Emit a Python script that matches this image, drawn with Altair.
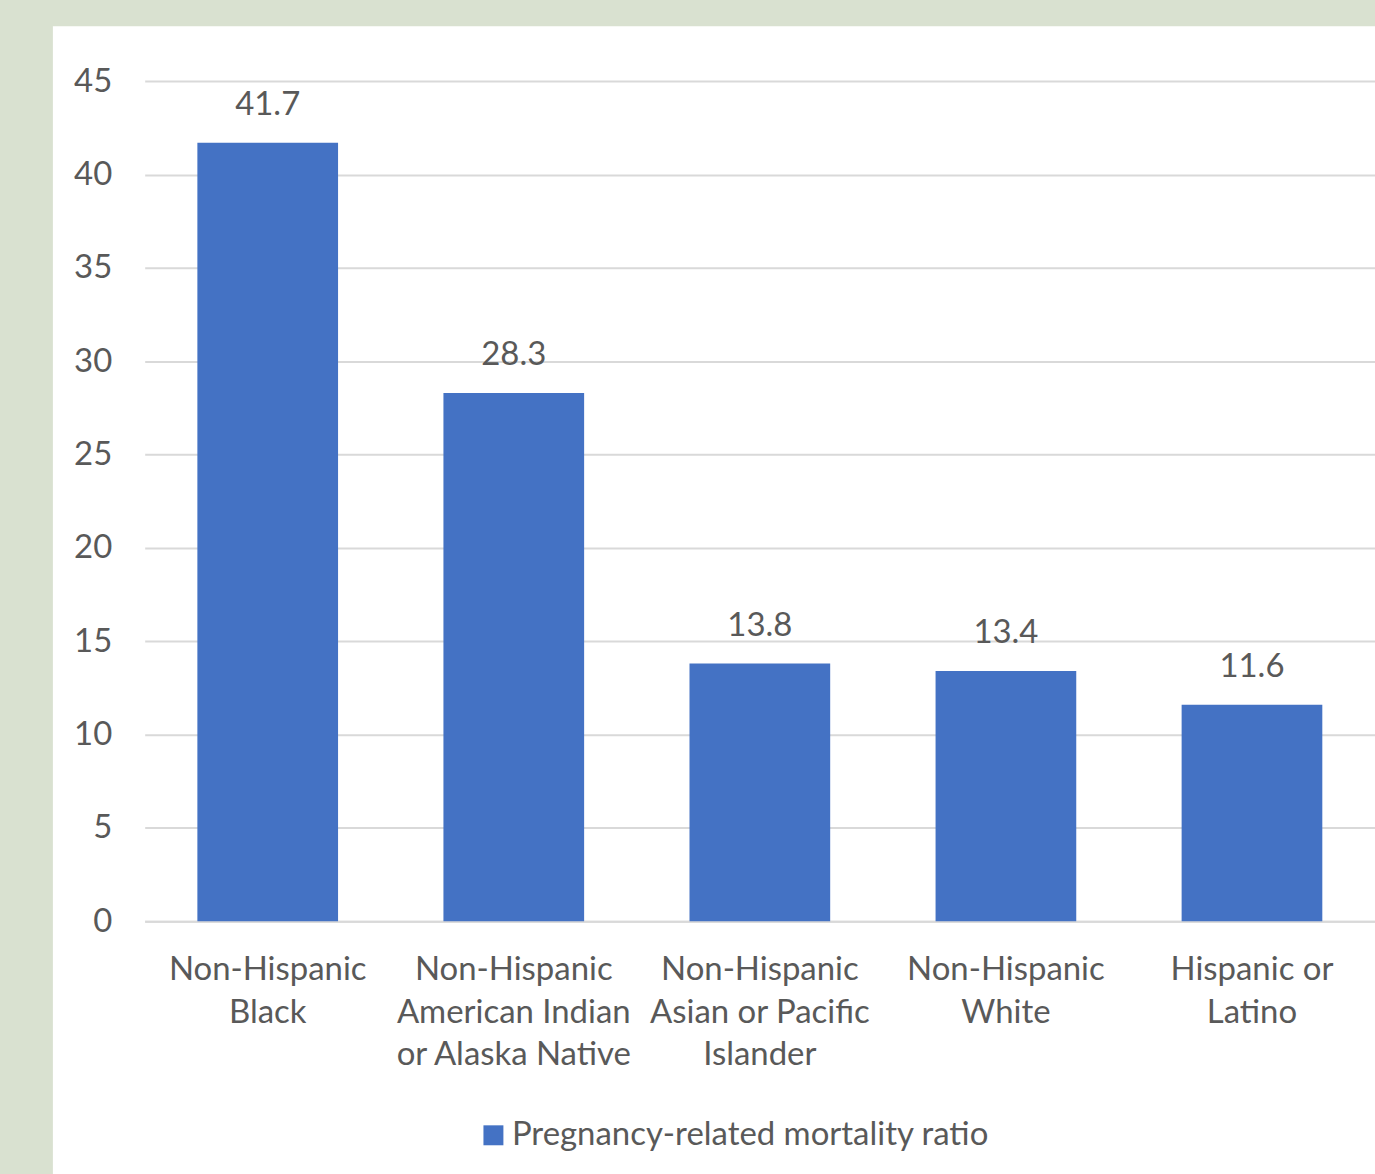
import altair as alt
import pandas as pd

# Pregnancy-related mortality ratio by race/ethnicity
categories = [
    "Non-Hispanic\nBlack",
    "Non-Hispanic\nAmerican Indian\nor Alaska Native",
    "Non-Hispanic\nAsian or Pacific\nIslander",
    "Non-Hispanic\nWhite",
    "Hispanic or\nLatino",
]
ratios = [41.7, 28.3, 13.8, 13.4, 11.6]
series_name = "Pregnancy-related mortality ratio"
y_ticks = [0, 5, 10, 15, 20, 25, 30, 35, 40, 45]

df = pd.DataFrame({"group": categories, "ratio": ratios, "series": series_name})

FONT = "Lato"
FONT_SIZE = 33
GREY_TEXT = "#595959"
BAR = "#4472c4"
FRAME = "#d9e1d0"

PLOT_W = 1233
PLOT_H = 842

# tinted frame strips along the top and left edges of the page
one = pd.DataFrame({"k": [0]})
top_strip = alt.Chart(one).mark_rect(color=FRAME).encode(
    x=alt.value(-150),
    x2=alt.value(PLOT_W + 10),
    y=alt.value(-85),
    y2=alt.value(-55),
)
left_strip = alt.Chart(one).mark_rect(color=FRAME).encode(
    x=alt.value(-150),
    x2=alt.value(-92),
    y=alt.value(-85),
    y2=alt.value(PLOT_H + 260),
)

base = alt.Chart(df)

x_enc = alt.X(
    "group:N",
    sort=categories,
    scale=alt.Scale(paddingInner=0.428, paddingOuter=0.214),
    axis=alt.Axis(
        title=None,
        labelAngle=0,
        labelExpr="split(datum.label, '\\n')",
        labelFont=FONT,
        labelFontSize=FONT_SIZE,
        labelColor=GREY_TEXT,
        labelLineHeight=43,
        labelPadding=32,
        labelBaseline="top",
        labelLimit=0,
        ticks=False,
        domain=True,
        domainColor="#d9d9d9",
        domainWidth=2,
        grid=False,
    ),
)

y_scale = alt.Scale(domain=[0, 45], nice=False)

bars = base.mark_bar(size=141).encode(
    x=x_enc,
    y=alt.Y(
        "ratio:Q",
        scale=y_scale,
        axis=alt.Axis(
            title=None,
            values=y_ticks,
            labelFont=FONT,
            labelFontSize=FONT_SIZE,
            labelColor=GREY_TEXT,
            labelPadding=33,
            ticks=False,
            domain=False,
            grid=True,
            gridColor="#d9d9d9",
            gridWidth=2,
        ),
    ),
    color=alt.Color(
        "series:N",
        scale=alt.Scale(domain=[series_name], range=[BAR]),
        legend=alt.Legend(
            title=None,
            orient="none",
            legendX=333,
            legendY=1040,
            symbolType="square",
            symbolSize=400,
            symbolStrokeWidth=0,
            labelFont=FONT,
            labelFontSize=FONT_SIZE,
            labelColor=GREY_TEXT,
            labelOffset=2,
            labelLimit=0,
        ),
    ),
)

labels = base.mark_text(
    font=FONT,
    fontSize=FONT_SIZE,
    color=GREY_TEXT,
    baseline="alphabetic",
    dy=-28,
).encode(
    x=alt.X("group:N", sort=categories),
    y=alt.Y("ratio:Q", scale=y_scale),
    text=alt.Text("ratio:Q", format=".1f"),
)

chart = (
    alt.layer(top_strip, left_strip, bars + labels)
    .properties(
        width=PLOT_W,
        height=PLOT_H,
        autosize=alt.AutoSizeParams(type="none"),
        padding={"left": 145, "top": 80, "right": 0, "bottom": 252},
        background="white",
    )
    .configure_view(stroke=None)
)

chart.save("out.html", embed_options={"renderer": "svg", "actions": False})
